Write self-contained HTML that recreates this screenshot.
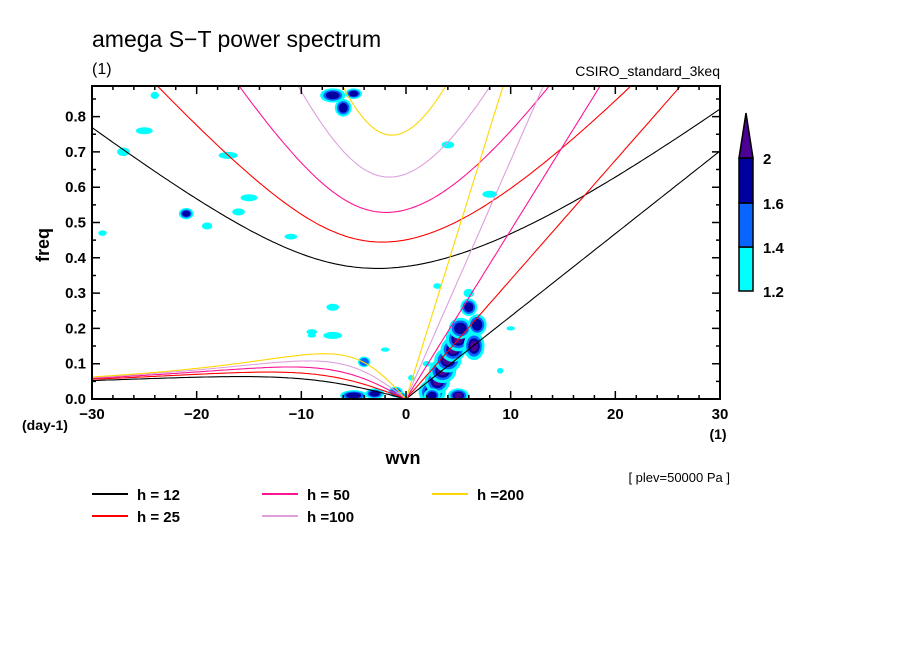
<!DOCTYPE html>
<html><head><meta charset="utf-8"><style>
html,body{margin:0;padding:0;background:#fff;}
svg{display:block;font-family:"Liberation Sans",sans-serif;}
</style></head><body>
<svg id="chart" width="904" height="654" viewBox="0 0 904 654">
<defs><clipPath id="clip"><rect x="92" y="86" width="628" height="313"/></clipPath></defs>
<rect x="0" y="0" width="904" height="654" fill="#fff"/>
<text x="92" y="47" font-size="23">amega S−T power spectrum</text>
<text x="92" y="74" font-size="16">(1)</text>
<text x="720" y="76" font-size="14" text-anchor="end">CSIRO_standard_3keq</text>
<g id="blobs" clip-path="url(#clip)"></g>
<g id="curves" clip-path="url(#clip)"></g>
<g id="axes"></g>
<text transform="translate(49,245) rotate(-90)" font-size="18" text-anchor="middle" font-weight="bold">freq</text>
<text x="22" y="430" font-size="14" font-weight="bold">(day-1)</text>
<text x="403" y="464" font-size="18" text-anchor="middle" font-weight="bold">wvn</text>
<text x="718" y="439" font-size="14" text-anchor="middle" font-weight="bold">(1)</text>
<text x="730" y="482" font-size="13" text-anchor="end">[ plev=50000 Pa ]</text>
<g id="legend"></g>
<g id="colorbar"></g>
</svg>
<script>
const depths=[12,25,50,100,200];
const depthColors=["#000000","#ff0000","#ff1493","#dda0dd","#ffd700"];
const depthLabels=["h = 12","h = 25","h = 50","h =100","h =200"];
const xTicks=[-30,-20,-10,0,10,20,30];
const yTicks=[0.0,0.1,0.2,0.3,0.4,0.5,0.6,0.7,0.8];
const levelLabels=["1.2","1.4","1.6","2"];
const levelColors=["#00ffff","#0a64ff","#0000a0","#4b0096"];
// blobs: wavenumber, freq, radius-wvn, radius-freq, max level (0..3)
const blobK=[2.5,3,3.5,4,4.5,5,5.2,6.5,6.8,6,5,2.5,-5,-3,-1,-0.5,-7,-6,-5,-21,-4,-24,-25,-17,-15,-11,-7,8,4,-27,10,6,-29,-19,-16,-9,3,9,0.5,2,-2,-7,-9];
const blobF=[0.02,0.05,0.08,0.11,0.14,0.17,0.2,0.15,0.21,0.26,0.01,0.01,0.01,0.015,0.02,0.01,0.86,0.825,0.865,0.525,0.105,0.86,0.76,0.69,0.57,0.46,0.18,0.58,0.72,0.7,0.2,0.3,0.47,0.49,0.53,0.18,0.32,0.08,0.06,0.1,0.14,0.26,0.19];
const blobRK=[1.3,1.2,1.3,1.3,1.2,1.2,1.1,1.0,0.9,0.8,1.0,0.8,1.3,0.9,0.7,0.5,1.2,0.8,0.8,0.7,0.6,0.4,0.8,0.9,0.8,0.6,0.9,0.7,0.6,0.6,0.4,0.5,0.4,0.5,0.6,0.4,0.4,0.3,0.3,0.4,0.4,0.6,0.5];
const blobRF=[0.035,0.035,0.035,0.035,0.035,0.035,0.03,0.04,0.03,0.025,0.02,0.02,0.015,0.015,0.015,0.01,0.02,0.025,0.015,0.016,0.015,0.01,0.01,0.01,0.01,0.008,0.01,0.01,0.01,0.012,0.006,0.012,0.008,0.01,0.01,0.006,0.008,0.008,0.008,0.008,0.006,0.01,0.008];
const blobL=[3,3,3,3,3,3,2,3,2,2,3,2,2,2,1,1,2,2,2,2,1,0,0,0,0,0,0,0,0,0,0,0,0,0,0,0,0,0,0,0,0,0,0];
const NS="http://www.w3.org/2000/svg";
const X0=92,X1=720,Y0=399,YT=86;
const xs=k=>X0+(k+30)/60*(X1-X0);
const ys=f=>Y0-f/0.1*35.3;
function mk(tag,attrs,parent){const e=document.createElementNS(NS,tag);for(const a in attrs)e.setAttribute(a,attrs[a]);parent.appendChild(e);return e;}
const bg=document.getElementById('blobs');
const scales=[1,0.75,0.55,0.38];
for(let i=0;i<blobK.length;i++){
  for(let l=0;l<=blobL[i];l++){
    const e=mk('ellipse',{cx:xs(blobK[i]),cy:ys(blobF[i]),rx:blobRK[i]*(X1-X0)/60*scales[l],ry:blobRF[i]/0.1*35.3*scales[l],fill:levelColors[l]},bg);
    
    
  }
}
const g=9.81,a=6.371e6,Om=7.292e-5,beta=2*Om/a;
function curvesFor(h){
  const c=Math.sqrt(g*h);
  const kscale=Math.sqrt(c/beta)/a;
  const wscale=Math.sqrt(beta*c)*86400/(2*Math.PI);
  const ig=[],er=[],kv=[];
  for(let wn=-30;wn<=30.001;wn+=0.25){
    const k=wn*kscale;
    let w=Math.sqrt(3+k*k)+0.5;
    for(let it=0;it<50;it++){w-= (w*w*w-(3+k*k)*w-k)/(3*w*w-(3+k*k));}
    ig.push([wn,w*wscale]);
    if(wn<=0){
      let w2=-k/(k*k+3);
      for(let it=0;it<50;it++){const d=3*w2*w2-(3+k*k);w2-=(w2*w2*w2-(3+k*k)*w2-k)/d;}
      er.push([wn,wn===0?0:w2*wscale]);
    }
    if(wn>=0)kv.push([wn,k*wscale]);
  }
  return [ig,er,kv];
}
const cg=document.getElementById('curves');
depths.forEach((h,i)=>{
  curvesFor(h).forEach((pts,j)=>{
    const p=mk('polyline',{points:pts.map(q=>xs(q[0]).toFixed(1)+','+ys(q[1]).toFixed(1)).join(' '),fill:'none',stroke:depthColors[i],'stroke-width':1.1},cg);
    
    
  });
});
const ax=document.getElementById('axes');
const fr=mk('rect',{x:X0,y:YT,width:X1-X0,height:Y0-YT,fill:'none',stroke:'#000','stroke-width':2},ax);


let d='';
for(let k=-30;k<=30;k+=2){const x=xs(k),L=(k%10===0)?8:4;d+=`M${x},${Y0}v${-L}M${x},${YT}v${L}`;}
for(let f=0;f<=0.8801;f+=0.05){const y=ys(f),L=(Math.round(f*100)%10===0)?8:4;d+=`M${X0},${y}h${L}M${X1},${y}h${-L}`;}
const tk=mk('path',{d:d,stroke:'#000','stroke-width':1.5,fill:'none'},ax);


xTicks.forEach(v=>{const t=mk('text',{x:xs(v),y:419,'font-size':15,'font-weight':'bold','text-anchor':'middle'},ax);t.textContent=(v<0?'−':'')+Math.abs(v);
  
  });
yTicks.forEach(v=>{const t=mk('text',{x:86,y:ys(v)+5,'font-size':15,'font-weight':'bold','text-anchor':'end'},ax);t.textContent=v.toFixed(1);
  
  });
const lg=document.getElementById('legend');
const lx=[92,262,432],ly=[494,516];
depths.forEach((h,i)=>{
  const col=Math.floor(i/2),row=i%2;
  const l=mk('line',{x1:lx[col],x2:lx[col]+36,y1:ly[row],y2:ly[row],stroke:depthColors[i],'stroke-width':2},lg);
  
  
  const t=mk('text',{x:lx[col]+45,y:ly[row]+6,'font-size':15,'font-weight':'bold'},lg);t.textContent=depthLabels[i];
  
  
});
const cb=document.getElementById('colorbar');
const cbY=[291,247,203,158];
for(let i=0;i<3;i++){
  const r=mk('rect',{x:739,y:cbY[i+1],width:14,height:cbY[i]-cbY[i+1],fill:levelColors[i],stroke:'#000','stroke-width':1.5},cb);
  
  
}
const tri=mk('polygon',{points:'739,158 753,158 746,113',fill:levelColors[3],stroke:'#000','stroke-width':1.5},cb);


levelLabels.forEach((s,i)=>{const t=mk('text',{x:763,y:cbY[i]+6,'font-size':15,'font-weight':'bold'},cb);t.textContent=s;
  
  });
</script>
</body></html>
